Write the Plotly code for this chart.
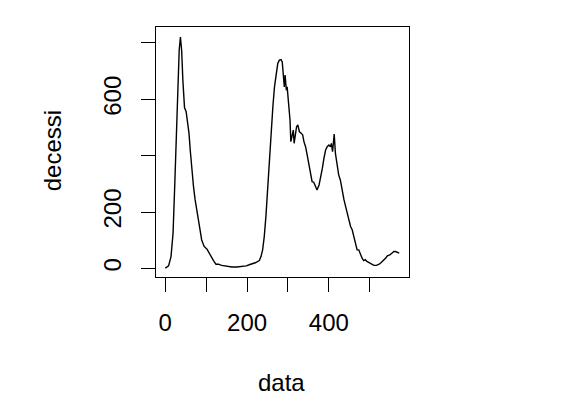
import plotly.graph_objects as go

# traced series (day index, deaths)
giorni = [0, 8, 14, 19, 23, 27, 31, 34, 37, 40, 43, 46, 47, 51, 54, 58, 61, 65, 69, 73,
          77, 81, 85, 89, 95, 102, 107, 114, 119, 124, 130, 138, 150, 163, 175, 187, 198, 207, 220, 230,
          234, 238, 242, 246, 250, 254, 259, 263, 267, 271, 275, 279, 283, 286, 289, 291, 293, 296, 298, 302,
          305, 307, 311, 313, 315, 318, 321, 324, 328, 333, 336, 339, 343, 347, 351, 355, 359, 363, 367, 371,
          376, 380, 384, 388, 392, 396, 400, 404, 406, 409, 411, 413, 416, 420, 424, 428, 432, 437, 441, 445,
          449, 453, 457, 461, 465, 469, 473, 477, 481, 485, 489, 493, 498, 504, 510, 516, 523, 528, 534, 539,
          543, 549, 554, 559, 563, 567, 572]
decessi = [1, 9, 42, 125, 290, 491, 668, 774, 821, 774, 668, 597, 571, 556, 526, 479, 420, 349, 290, 243,
           202, 172, 137, 101, 78, 68, 54, 40, 25, 15, 15, 11, 7, 5, 5, 6, 9, 14, 20, 28,
           42, 66, 113, 184, 278, 385, 491, 573, 644, 691, 727, 739, 741, 733, 674, 644, 686, 632, 644, 573,
           526, 450, 479, 491, 444, 479, 503, 509, 485, 479, 473, 450, 432, 402, 373, 337, 308, 306, 290, 278,
           296, 320, 355, 391, 420, 432, 438, 432, 444, 414, 455, 477, 408, 361, 332, 314, 278, 243, 219, 196,
           166, 149, 137, 113, 84, 66, 66, 48, 37, 28, 31, 25, 21, 15, 11, 11, 15, 21, 28, 37,
           45, 48, 54, 60, 60, 57, 54]

x_ticks = [0, 100, 200, 300, 400, 500]
x_labels = ["0", "", "200", "", "400", ""]
y_ticks = [0, 200, 400, 600, 800]
y_labels = ["0", "200", "", "600", ""]

FONT = "Liberation Sans, Arial, Helvetica, sans-serif"

fig = go.Figure()
fig.add_trace(go.Scatter(x=giorni, y=decessi, mode="lines",
                         line=dict(color="black", width=1.4), showlegend=False))

fig.update_layout(
    width=580, height=409,
    margin=dict(l=148, r=179, t=19, b=140, autoexpand=False),
    paper_bgcolor="white", plot_bgcolor="white",
    font=dict(family=FONT, size=24, color="black"),
    xaxis=dict(range=[-22.7, 595.9], tickvals=x_ticks, ticktext=x_labels,
               showgrid=False, zeroline=False, showline=True, mirror=True,
               linecolor="black", linewidth=1, ticks="outside", ticklen=14,
               tickwidth=1, tickcolor="black", automargin=False,
               ticklabelstandoff=10),
    yaxis=dict(range=[-30.4, 856.6], tickvals=y_ticks, ticktext=y_labels,
               showgrid=False, zeroline=False, showline=True, mirror=True,
               linecolor="black", linewidth=1, ticks="outside", ticklen=14,
               tickwidth=1, tickcolor="black", tickangle=-90, automargin=False,
               ticklabelstandoff=10),
    annotations=[
        dict(text="data", xref="paper", yref="paper", x=0.498, y=-0.422,
             xanchor="center", yanchor="middle", showarrow=False,
             font=dict(size=24)),
        dict(text="decessi", xref="paper", yref="paper", x=-0.409, y=0.505,
             xanchor="center", yanchor="middle", showarrow=False, textangle=-90,
             font=dict(size=24)),
    ],
)

fig.write_html("out.html")
